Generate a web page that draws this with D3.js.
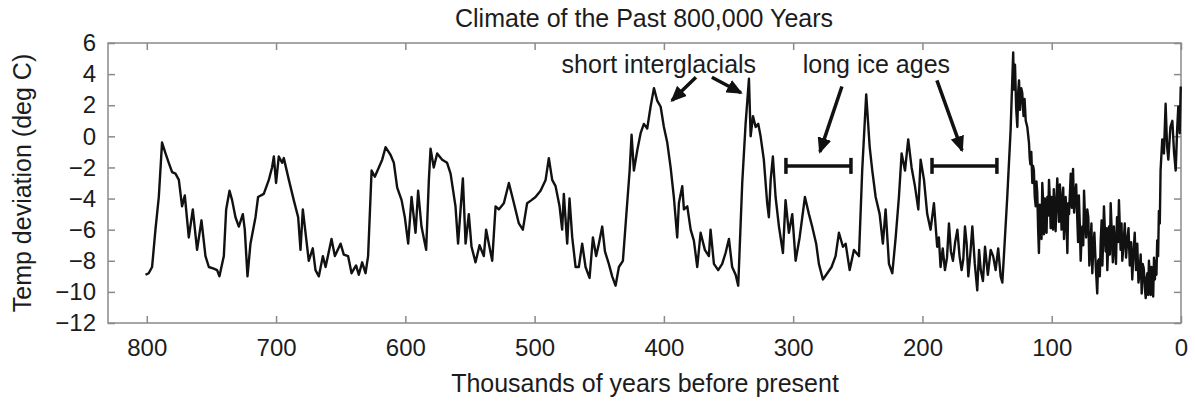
<!DOCTYPE html>
<html><head><meta charset="utf-8">
<script src="https://cdn.jsdelivr.net/npm/d3@7"></script>
<style>
body{margin:0;background:#fff}
text{font-family:"Liberation Sans",Arial,Helvetica,sans-serif;fill:#1c1c1c}
</style>
</head><body>
<svg id="chart" width="1195" height="403"></svg>
<script>
// ages in thousands of years before present (800k -> 119k)
const ages = [
801,798.5,795.9,793.3,790.7,788.2,785.5,783.0,780.4,777.8,775.2,772.7,770.6,767.5,764.4,761.1,757.7,754.6,752.0,748.2,
745.6,743.8,740.4,738.6,736.0,734.0,731.4,728.8,725.7,724.2,722.1,719.8,715.9,713.9,709.5,705.6,703.1,701.7,700.0,697.9,
695.3,694.0,690.1,686.3,682.9,681.1,679.3,677.2,674.7,671.6,669.5,666.9,663.8,661.7,657.1,654.5,650.1,647.6,644.3,641.6,
638.1,636.0,633.4,630.8,628.8,626.1,623.6,620.5,617.9,615.3,611.4,608.9,606.3,602.9,600.4,597.8,595.2,592.1,590.1,587.5,
583.9,581.8,580.5,578.0,575.4,571.5,567.7,565.0,561.2,559.2,555.5,553.4,550.9,548.8,545.7,542.6,539.3,537.5,535.4,532.8,
530.2,527.7,523.8,519.9,516.0,512.2,509.1,505.8,502.4,499.3,495.4,491.5,489.0,486.4,483.8,480.7,478.7,477.4,474.8,473.0,
470.9,468.3,465.8,463.2,460.6,457.5,454.9,452.4,450.3,447.7,445.6,442.6,440.0,437.4,434.8,431.7,429.2,426.5,425.0,423.2,
420.6,418.0,415.5,412.9,410.3,407.7,405.2,402.5,400.0,397.4,394.8,392.3,389.7,388.4,385.8,384.5,381.9,379.3,376.8,374.2,
371.6,368.3,365.2,363.9,361.3,358.0,354.9,352.3,349.7,347.2,344.5,342.5,339.4,336.8,334.2,332.9,331.1,329.0,327.0,325.2,
322.7,320.1,318.8,317.4,315.7,313.6,311.0,307.9,305.9,303.3,300.7,298.1,295.0,290.9,287.8,285.3,282.2,280.1,277.0,273.6,
270.3,267.2,264.6,261.5,259.4,256.3,253.0,249.1,246.6,243.5,240.8,238.8,236.2,233.1,230.6,228.5,225.9,223.3,220.7,218.2,
216.1,213.5,211.0,208.4,205.8,203.2,201.4,198.8,196.3,193.7,191.1,188.6,187.3,186.0,184.3,182.6,181.0,179.5,178.0,176.4,
174.7,173.0,171.3,169.7,168.4,167.1,165.8,164.5,163.0,161.4,159.5,157.6,156.2,154.9,153.2,151.6,149.4,147.2,145.3,143.4,
141.4,139.5,138.2,137.0,134.4,131.8,129.8,129.2,128.4,127.5,126.6,125.9,125.3,124.5,123.6,122.8,121.8,121.0,120.1,118.9
];
// temperature deviation (deg C)
const temps = [
-8.9,-8.8,-8.4,-6.0,-3.9,-0.4,-1.1,-1.7,-2.3,-2.4,-2.8,-4.5,-3.8,-6.5,-4.7,-7.3,-5.4,-7.7,-8.4,-8.5,
-8.6,-9.0,-7.7,-4.7,-3.5,-4.1,-5.2,-5.8,-5.0,-6.0,-9.0,-6.9,-5.2,-3.9,-3.7,-2.8,-2.0,-1.3,-3.0,-1.3,
-1.7,-1.4,-2.8,-4.1,-5.2,-7.3,-4.7,-6.2,-8.0,-7.2,-8.6,-9.0,-7.7,-8.4,-6.6,-7.7,-6.9,-7.6,-7.7,-8.8,
-8.3,-8.9,-8.1,-8.8,-7.7,-2.2,-2.6,-2.0,-1.5,-0.7,-1.2,-1.7,-3.3,-4.1,-5.2,-6.9,-3.9,-6.2,-3.5,-5.8,
-7.3,-2.8,-0.8,-2.0,-1.1,-1.5,-1.7,-2.4,-4.5,-6.9,-2.7,-6.9,-5.0,-7.1,-8.1,-7.0,-7.7,-6.0,-6.9,-8.0,
-4.5,-4.7,-4.3,-3.0,-4.3,-5.6,-6.0,-4.3,-4.1,-3.9,-3.5,-2.8,-1.4,-2.8,-3.2,-4.5,-6.0,-3.7,-6.9,-4.0,
-6.5,-8.4,-8.4,-6.9,-8.4,-9.1,-6.5,-7.7,-6.9,-5.8,-7.4,-8.2,-9.0,-9.6,-8.4,-8.0,-5.2,-2.2,0.1,-2.2,
-0.9,0.2,0.8,0.5,1.9,3.1,2.3,1.9,0.6,-0.4,-2.0,-3.9,-6.5,-4.3,-3.2,-4.7,-4.5,-6.0,-6.7,-8.4,
-6.2,-7.3,-7.7,-6.0,-8.2,-8.6,-8.2,-7.5,-6.6,-8.4,-8.9,-9.6,-3.0,0.8,3.7,0.0,1.3,0.6,0.8,0.0,
-1.5,-4.3,-5.2,-2.8,-1.3,-3.9,-5.8,-7.5,-4.1,-6.2,-5.0,-8.0,-6.5,-3.9,-5.0,-5.8,-6.9,-8.2,-9.2,-8.8,
-8.4,-7.7,-6.2,-7.1,-6.9,-8.6,-7.3,-7.7,-2.2,2.7,-0.7,-2.2,-3.9,-5.0,-6.9,-4.7,-8.2,-8.8,-6.5,-3.9,
-1.1,-2.2,-0.2,-2.0,-3.2,-4.7,-1.5,-2.8,-5.0,-6.0,-4.3,-7.1,-6.5,-8.4,-7.2,-8.6,-7.8,-5.6,-7.4,-8.0,
-6.8,-6.0,-7.7,-8.6,-7.9,-5.8,-6.9,-9.0,-7.6,-5.8,-8.2,-9.9,-7.3,-8.6,-9.3,-7.1,-8.9,-7.3,-7.7,-8.6,
-7.2,-9.0,-9.4,-7.7,-3.9,0.4,5.4,3.0,4.6,1.8,0.6,2.9,3.6,1.7,3.1,2.8,1.3,2.4,1.0,0.6
];
// last glacial cycle, denser record (118k -> present)
const recentAges = [
117.6,117.0,116.5,115.8,115.0,114.4,113.8,113.1,112.4,111.8,111.2,110.5,109.9,109.2,108.6,107.9,107.3,106.6,106.0,105.3,
104.7,104.0,103.4,102.7,102.1,101.4,100.8,100.2,99.6,99.0,98.4,97.7,97.0,96.3,95.7,95.0,94.4,93.7,93.1,92.4,
91.8,91.1,90.5,89.8,89.2,88.5,87.9,87.2,86.6,85.9,85.3,84.8,84.4,84.0,83.5,82.7,82.0,81.1,80.2,79.6,
79.0,78.3,77.6,76.9,76.3,75.6,75.0,74.2,73.4,72.5,71.7,70.9,70.1,69.3,68.6,67.8,67.0,65.9,64.8,64.1,
63.5,62.8,62.1,61.4,60.8,60.2,59.6,58.9,58.3,57.6,57.0,56.3,55.7,55.0,54.4,53.5,52.7,51.9,51.1,50.3,
49.5,48.7,48.0,47.3,46.7,46.0,45.4,44.4,43.5,42.5,41.6,40.6,39.6,38.6,37.7,36.7,35.8,34.8,33.8,32.9,
32.1,31.2,30.4,29.6,28.8,28.0,27.3,26.6,26.0,25.4,24.8,24.1,23.5,22.8,22.2,21.5,20.9,20.2,19.6,19.0,
18.4,17.7,17.1,16.4,15.8,14.5,13.2,11.9,10.8,9.8,8.2,6.7,5.4,4.1,3.0,2.1,1.0,0.2
];
const recentTemps = [
-0.4,-1.4,-1.8,-1.0,-3.0,-1.9,-2.2,-3.9,-4.5,-2.9,-3.6,-6.0,-7.5,-4.4,-5.2,-6.6,-3.0,-4.2,-6.3,-4.0,
-5.8,-6.2,-3.9,-5.1,-2.8,-4.2,-5.9,-3.9,-5.2,-6.0,-3.4,-4.8,-6.1,-4.0,-2.7,-4.3,-5.5,-3.1,-3.8,-6.0,
-4.7,-3.3,-6.6,-5.2,-3.9,-5.7,-7.5,-4.3,-5.0,-3.6,-2.4,-3.9,-4.6,-3.0,-2.1,-4.9,-4.0,-3.1,-5.4,-6.8,
-3.8,-5.6,-8.0,-6.4,-5.8,-7.0,-3.5,-5.3,-6.5,-4.7,-5.2,-8.3,-7.2,-5.6,-8.8,-7.1,-6.2,-8.4,-10.1,-8.0,
-7.9,-9.0,-6.7,-5.4,-8.3,-6.6,-4.5,-6.0,-7.4,-5.9,-8.6,-7.0,-5.8,-7.6,-4.3,-6.3,-8.1,-5.8,-7.1,-8.2,
-5.2,-6.8,-4.1,-5.9,-7.3,-5.6,-8.0,-6.9,-5.6,-7.8,-6.7,-5.9,-8.3,-6.8,-9.2,-7.4,-6.2,-8.6,-6.9,-9.4,
-8.8,-7.6,-10.1,-8.2,-8.5,-9.7,-10.4,-9.1,-8.8,-10.2,-8.0,-9.0,-10.2,-8.4,-9.9,-10.3,-7.8,-9.2,-8.0,-8.9,
-6.7,-7.7,-4.8,-5.6,-2.2,-0.2,-1.1,2.1,-0.6,-1.5,0.6,1.0,-1.0,-2.2,0.4,1.9,0.2,3.2
];
const xTicks = [800,700,600,500,400,300,200,100,0];
const yTicks = [6,4,2,0,-2,-4,-6,-8,-10,-12];

const titleText = "Climate of the Past 800,000 Years";
const xLabel = "Thousands of years before present";
const yLabel = "Temp deviation (deg C)";

// annotations in data units: [age, temp]
const arrowSpecs = [
  [375.2, 3.8, 393.8, 2.3],
  [362.9, 3.8, 340.4, 2.8],
  [262.3, 3.2, 279.3, -1.0],
  [188.8, 3.6, 169.4, -0.9]
];
const spanSpecs = [[305.6, 255.3, -1.9], [192.6, 142.4, -1.9]];
const noteSpecs = [["short interglacials", 403.9, 4.05], ["long ice ages", 235.6, 4.05]];

const m = {left:108, right:1181, top:43, bottom:323};
const svg = d3.select("#chart");

const x = d3.scaleLinear().domain([830, 0]).range([m.left, m.right]);
const y = d3.scaleLinear().domain([-12, 6]).range([m.bottom, m.top]);

const frameColor = "#8a8a8a";

const gB = svg.append("g").attr("transform", `translate(0,${m.bottom})`)
  .call(d3.axisBottom(x).tickValues(xTicks).tickSizeInner(-7).tickSizeOuter(0).tickPadding(16).tickFormat(d3.format("d")));
const gL = svg.append("g").attr("transform", `translate(${m.left},0)`)
  .call(d3.axisLeft(y).tickValues(yTicks).tickSizeInner(-7).tickSizeOuter(0).tickPadding(12));
const gT = svg.append("g").attr("transform", `translate(0,${m.top})`)
  .call(d3.axisTop(x).tickValues(xTicks).tickSizeInner(-7).tickSizeOuter(0).tickFormat(""));
const gR = svg.append("g").attr("transform", `translate(${m.right},0)`)
  .call(d3.axisRight(y).tickValues(yTicks).tickSizeInner(-7).tickSizeOuter(0).tickFormat(""));
[gB, gL, gT, gR].forEach(g => {
  g.select(".domain").remove();
  g.selectAll(".tick line").attr("stroke", frameColor).attr("stroke-width", 1.5);
  g.selectAll(".tick text").style("font-size", "24px").attr("fill", "#1c1c1c")
    .style("font-family", '"Liberation Sans",Arial,Helvetica,sans-serif');
});

svg.append("rect")
  .attr("x", m.left).attr("y", m.top)
  .attr("width", m.right - m.left).attr("height", m.bottom - m.top)
  .attr("fill", "none").attr("stroke", frameColor).attr("stroke-width", 1.5);

const data = ages.map((a, i) => ({age: a, temp: temps[i]}))
  .concat(recentAges.map((a, i) => ({age: a, temp: recentTemps[i]})));
svg.append("path").datum(data)
  .attr("fill", "none").attr("stroke", "#111").attr("stroke-width", 2.4)
  .attr("stroke-linejoin", "round")
  .attr("d", d3.line().x(d => x(d.age)).y(d => y(d.temp)));

svg.append("text").attr("x", 644).attr("y", 27).attr("text-anchor", "middle")
  .style("font-size", "25px").text(titleText);
svg.append("text").attr("x", 645).attr("y", 392).attr("text-anchor", "middle")
  .style("font-size", "25px").text(xLabel);
svg.append("text").attr("transform", `translate(31,${(m.top + m.bottom) / 2}) rotate(-90)`)
  .attr("text-anchor", "middle").style("font-size", "25px").text(yLabel);

const defs = svg.append("defs");
defs.append("marker").attr("id", "ah").attr("viewBox", "0 -7 16 14")
  .attr("refX", 14).attr("refY", 0).attr("markerWidth", 16).attr("markerHeight", 14)
  .attr("markerUnits", "userSpaceOnUse").attr("orient", "auto")
  .append("path").attr("d", "M0,-7L16,0L0,7Z").attr("fill", "#111");

arrowSpecs.forEach(s => {
  svg.append("line")
    .attr("x1", x(s[0])).attr("y1", y(s[1]))
    .attr("x2", x(s[2])).attr("y2", y(s[3]))
    .attr("stroke", "#111").attr("stroke-width", 3.5)
    .attr("marker-end", "url(#ah)");
});
spanSpecs.forEach(s => {
  const g = svg.append("g").attr("stroke", "#111").attr("stroke-width", 3.5);
  g.append("line").attr("x1", x(s[0])).attr("x2", x(s[1])).attr("y1", y(s[2])).attr("y2", y(s[2]));
  [s[0], s[1]].forEach(a => g.append("line").attr("x1", x(a)).attr("x2", x(a))
    .attr("y1", y(s[2]) - 8).attr("y2", y(s[2]) + 8));
});
noteSpecs.forEach(s => {
  svg.append("text").attr("x", x(s[1])).attr("y", y(s[2])).attr("text-anchor", "middle")
    .style("font-size", "25px").text(s[0]);
});
</script>
</body></html>
